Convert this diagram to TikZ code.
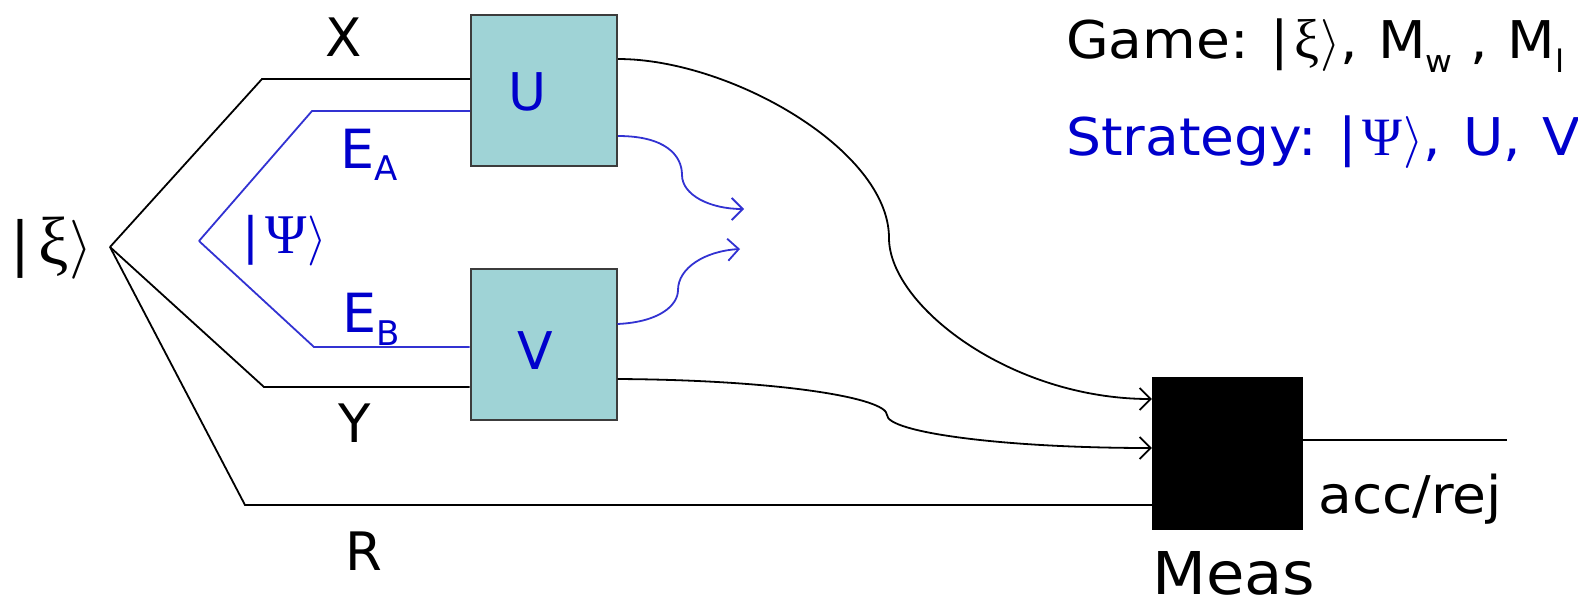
\RequirePackage{fix-cm}
\documentclass[tikz,border=0pt]{standalone}
\usepackage{fontspec}
\setmainfont{DejaVu Sans}
\newfontfamily\wide[FakeStretch=1.06]{DejaVu Sans}
\newfontfamily\grk{Liberation Serif}
\usetikzlibrary{arrows.meta}
\definecolor{boxfill}{RGB}{159,211,214}
\definecolor{boxline}{RGB}{60,60,60}
\definecolor{inkblue}{RGB}{0,0,204}
\definecolor{wireblue}{RGB}{50,50,210}
\newcommand{\fsz}[1]{\fontsize{#1}{#1}\selectfont}
% lowered subscript: depth, size, text
\newcommand{\lowsub}[3]{\raisebox{-#1pt}{\fsz{#2}#3}}
% ket: bar size, letter size, letter, gap after bar
\newcommand{\ket}[4]{{\fsz{#1}|}\hspace{#4pt}{\grk\fsz{#2}#3}\hspace{1pt}{\fsz{#1}$\rangle$}}
\begin{document}
\begin{tikzpicture}[x=1pt,y=-1pt,
  wire/.style={line width=1.8pt,black},
  bwire/.style={line width=1.8pt,wireblue},
  gate/.style={draw=boxline,line width=2pt,fill=boxfill,minimum width=146pt,minimum height=151pt,inner sep=0pt},
  measbox/.style={fill=black,draw=black,minimum width=150pt,minimum height=152pt,inner sep=0pt},
  lbl/.style={inner sep=0pt,anchor=base},
  lblw/.style={inner sep=0pt,anchor=base west},
  tip/.style={-{Straight Barb[length=11pt,width=22pt]}}
]
\useasboundingbox (0,0) rectangle (1578,603);

% gates
\node[gate] (U) at (544,90.5) {};
\node[gate] (V) at (543.5,344.5) {};
\node[measbox] (M) at (1227,453) {};

% gate letters
\node[lbl,text=inkblue,font=\fsz{52}] (Ut) at (528,110) {U};
\node[lbl,text=inkblue,font=\fsz{52}] (Vt) at (535,369) {V};

% branching points
\coordinate (src) at (110,247);
\coordinate (psi) at (199,241);
\coordinate (xk) at (262,79);
\coordinate (eak) at (312,111);
\coordinate (ebk) at (314,347);
\coordinate (yk) at (264,387);
\coordinate (rk) at (245,505);

% input wires
\draw[wire] (src) -- (xk) -- (xk -| U.west);
\draw[bwire] (psi) -- (eak) -- (eak -| U.west);
\draw[bwire] (psi) -- (ebk) -- (ebk -| V.west);
\draw[wire] (src) -- (yk) -- (yk -| V.west);
\draw[wire] (src) -- (rk) -- (rk -| M.west);

% output levels
\coordinate (uo1) at (0,59);
\coordinate (uo2) at (0,136);
\coordinate (vo1) at (0,324);
\coordinate (vo2) at (0,379);
\coordinate (mi1) at (0,399);
\coordinate (mi2) at (0,448);
\coordinate (mo) at (0,440);
\coordinate (ua) at (744,209);
\coordinate (va) at (740,249);
\coordinate (accend) at (1507,440);

% outputs of U and V
\draw[wire,tip] (U.east |- uo1) .. controls (730,59) and (889,150) .. (889,238)
   .. controls (889,305) and (1010,399) .. (M.west |- mi1);
\draw[wire,tip] (V.east |- vo2) .. controls (780,380) and (887,398) .. (887,415)
   .. controls (887,432) and (1000,448) .. (M.west |- mi2);
\draw[bwire,tip] (U.east |- uo2) .. controls (665,136) and (682,155) .. (682,175)
   .. controls (682,195) and (710,209) .. (ua);
\draw[bwire,tip] (V.east |- vo1) .. controls (660,322) and (678,305) .. (678,290)
   .. controls (678,268) and (705,251) .. (va);
\draw[wire] (M.east |- mo) -- (accend);

% wire labels
\node[lbl,font=\fsz{53}] (xl) at (344,56) {X};
\node[lbl,font=\fsz{53}] (yl) at (355,442) {Y};
\node[lbl,font=\fsz{53}] (rl) at (364,570) {R};
\node[lblw,text=inkblue,font=\fsz{54}] (eal) at (340,168) {E\lowsub{12}{34}{A}};
\node[lblw,text=inkblue,font=\fsz{54}] (ebl) at (342,332) {E\lowsub{13}{34}{B}};

% states
\node[lblw] (xi) at (10,264) {\ket{59}{68}{ξ}{8}};
\node[lblw,text=inkblue] (psil) at (242,253) {\ket{50}{56}{Ψ}{6}};

% measurement labels
\node[lblw,font=\wide\fsz{59}] (measl) at (1152,594) {Meas};
\node[lblw,font=\wide\fsz{52}] (accl) at (1318,513) {acc/rej};

% legend
\node[lblw,font=\wide\fsz{52}] (game) at (1066,58)
  {Game:\hspace{22pt}\ket{52}{56}{ξ}{5},\hspace{20pt}M\lowsub{14}{31}{w} ,\hspace{20pt}M\lowsub{14}{31}{l}};
\node[lblw,text=inkblue,font=\wide\fsz{52}] (strat) at (1066,155)
  {Strategy:\hspace{22pt}\ket{52}{54}{Ψ}{5},\hspace{22pt}U,\hspace{22pt}V};
\end{tikzpicture}
\end{document}
